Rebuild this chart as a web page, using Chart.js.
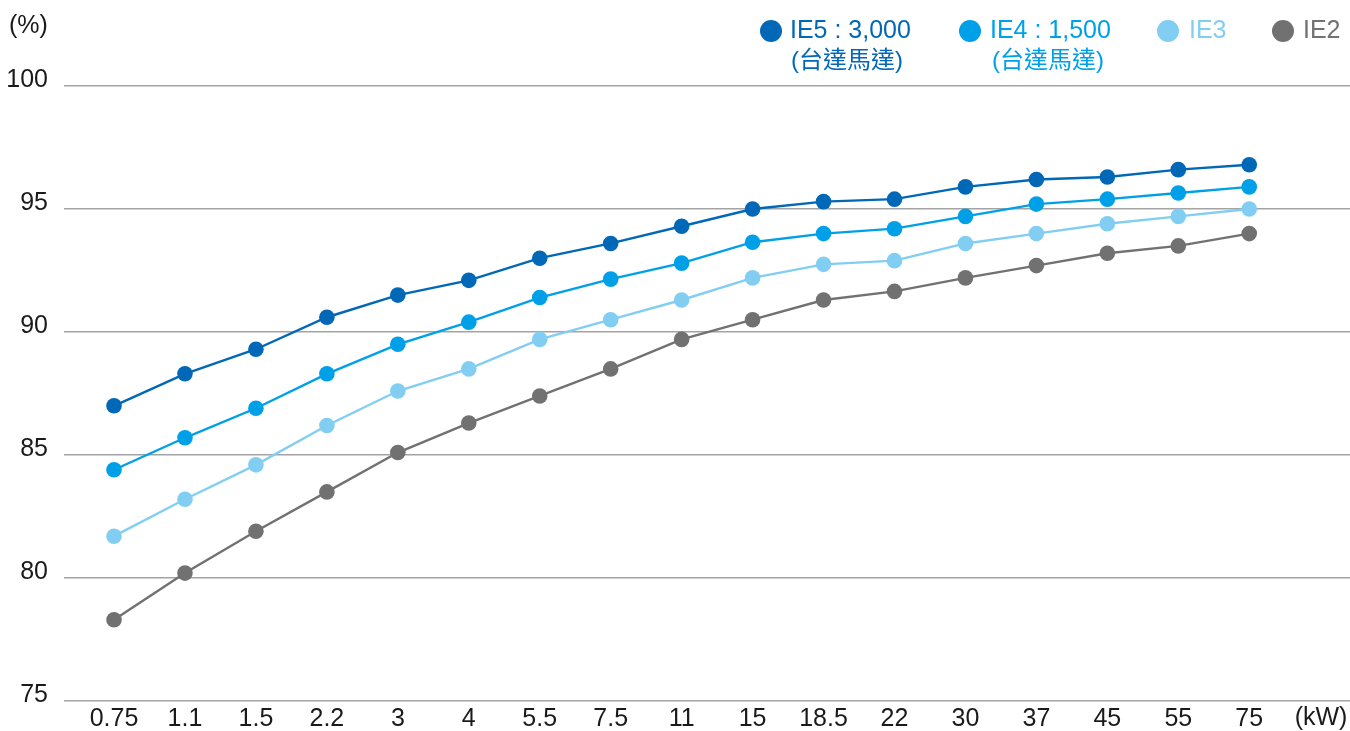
<!DOCTYPE html>
<html><head><meta charset="utf-8">
<script src="https://cdn.jsdelivr.net/npm/chart.js@4"></script>
<style>html,body{margin:0;padding:0;background:#fff}</style>
</head><body>
<canvas id="c" width="1350" height="731"></canvas>
<script>
const categories = ['0.75','1.1','1.5','2.2','3','4','5.5','7.5','11','15','18.5','22','30','37','45','55','75'];
const ie5 = [87.0, 88.3, 89.3, 90.6, 91.5, 92.1, 93.0, 93.6, 94.3, 95.0, 95.3, 95.4, 95.9, 96.2, 96.3, 96.6, 96.8];
const ie4 = [84.4, 85.7, 86.9, 88.3, 89.5, 90.4, 91.4, 92.15, 92.8, 93.65, 94.0, 94.2, 94.7, 95.2, 95.4, 95.65, 95.9];
const ie3 = [81.7, 83.2, 84.6, 86.2, 87.6, 88.5, 89.7, 90.5, 91.3, 92.2, 92.75, 92.9, 93.6, 94.0, 94.4, 94.7, 95.0];
const ie2 = [78.3, 80.2, 81.9, 83.5, 85.1, 86.3, 87.4, 88.5, 89.7, 90.5, 91.3, 91.65, 92.2, 92.7, 93.2, 93.5, 94.0];
const seriesNames = ['IE5 : 3,000', 'IE4 : 1,500', 'IE3', 'IE2'];
const seriesSubNames = ['(台達馬達)', '(台達馬達)', '', ''];
const yTicks = [75, 80, 85, 90, 95, 100];
const yUnit = '(%)';
const xUnit = '(kW)';

const colors = ['#0068b7', '#00a0e9', '#82cef3', '#727171'];
const FONT = '"Liberation Sans", Arial, "Noto Sans CJK TC", sans-serif';

function pts(arr){ return arr.map((v,i)=>({x:i, y:v})); }

const legendPos = [
  {cx:771, tx:790, sx:847},
  {cx:970, tx:990, sx:1048},
  {cx:1168, tx:1189},
  {cx:1283, tx:1303}
];

const extras = {
  id:'extras',
  afterDraw(chart){
    const ctx = chart.ctx;
    ctx.save();
    ctx.font = '25px ' + FONT;
    ctx.fillStyle = '#1a1a1a';
    ctx.textBaseline = 'middle';
    ctx.textAlign = 'left';
    ctx.fillText(yUnit, 9, 26);
    ctx.textAlign = 'center';
    ctx.fillText(xUnit, 1321, 718);
    chart.data.datasets.forEach((ds, i) => {
      const p = legendPos[i];
      ctx.fillStyle = ds.borderColor;
      ctx.beginPath();
      ctx.arc(p.cx, 31, 11, 0, Math.PI*2);
      ctx.fill();
      ctx.textAlign = 'left';
      ctx.font = '25px ' + FONT;
      ctx.fillText(ds.label, p.tx, 31);
      if (seriesSubNames[i]) {
        ctx.textAlign = 'center';
        ctx.font = '24px ' + FONT;
        ctx.fillText(seriesSubNames[i], p.sx, 61);
      }
    });
    ctx.restore();
  }
};

new Chart(document.getElementById('c'), {
  type:'line',
  data:{
    datasets:[ie5, ie4, ie3, ie2].map((arr,i)=>({
      label: seriesNames[i],
      data: pts(arr),
      borderColor: colors[i],
      backgroundColor: colors[i],
      pointBackgroundColor: colors[i],
      pointBorderWidth: 0,
      pointRadius: 7.8,
      pointHoverRadius: 7.8,
      borderWidth: 2.4,
      tension: 0,
      clip: false
    }))
  },
  options:{
    responsive:false,
    animation:false,
    events:[],
    layout:{autoPadding:false, padding:{top:86, left:0, right:0, bottom:0}},
    plugins:{legend:{display:false}, tooltip:{enabled:false}},
    scales:{
      x:{
        type:'linear',
        min:-0.705, max:17.42,
        afterBuildTicks(scale){ scale.ticks = categories.map((c,i)=>({value:i})); },
        afterFit(scale){ scale.height = 30; scale.paddingLeft = 0; scale.paddingRight = 0; },
        grid:{display:false, drawTicks:false},
        border:{display:false},
        ticks:{
          callback:(v)=>categories[v] ?? '',
          font:{family:FONT, size:25},
          color:'#1a1a1a',
          padding:3,
          maxRotation:0,
          autoSkip:false
        }
      },
      y:{
        min:75, max:100,
        afterBuildTicks(scale){ scale.ticks = yTicks.map(v=>({value:v})); },
        afterFit(scale){ scale.width = 64; scale.paddingTop = 0; scale.paddingBottom = 0; },
        grid:{color:'#a3a3a3', lineWidth:1.5, drawTicks:false},
        border:{display:false},
        ticks:{
          font:{family:FONT, size:25},
          color:'#1a1a1a',
          padding:16,
          labelOffset:-6
        }
      }
    }
  },
  plugins:[extras]
});
</script>
</body></html>
